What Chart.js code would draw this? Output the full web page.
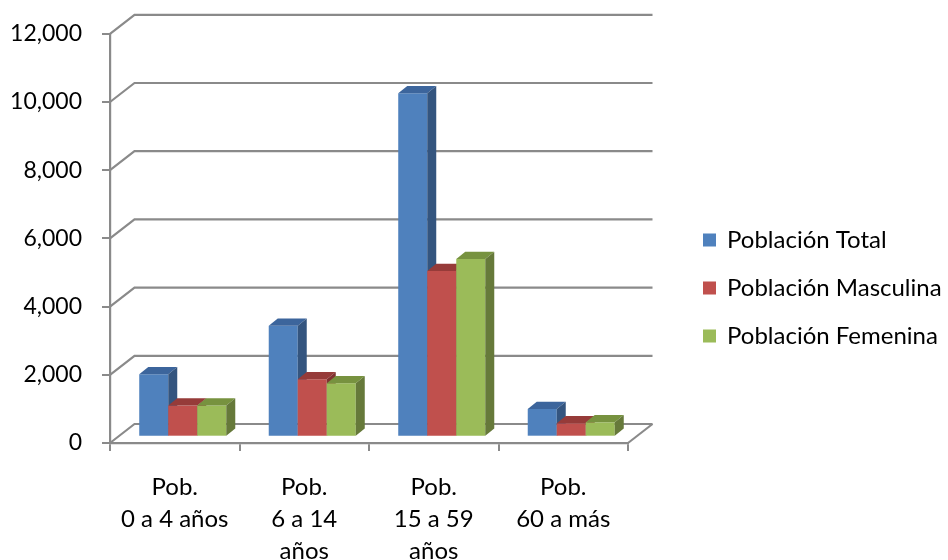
<!DOCTYPE html>
<html>
<head>
<meta charset="utf-8">
<script src="https://cdn.jsdelivr.net/npm/chart.js@4.4.0/dist/chart.umd.min.js"></script>
<style>
  html, body { margin: 0; padding: 0; background: #ffffff; }
  #wrap { position: relative; width: 948px; height: 560px; }
</style>
</head>
<body>
<div id="wrap"><canvas id="chart" width="948" height="560"></canvas></div>
<script>
// Age groups (multi-line category labels)
const categories = [
  ["Pob.", "0 a 4 años"],
  ["Pob.", "6 a 14", "años"],
  ["Pob.", "15 a 59", "años"],
  ["Pob.", "60 a más"]
];
const seriesNames = ["Población Total", "Población Masculina", "Población Femenina"];
const totalValues  = [1830, 3255, 10070, 815];
const maleValues   = [915, 1685, 4860, 393];
const femaleValues = [915, 1570, 5210, 422];
const yMin = 0, yMax = 12000, yStep = 2000;

// Face colours: front / top / side
const palette = [
  { front: "#4f81bd", top: "#3c659c", side: "#34557f" },
  { front: "#c0504d", top: "#963b39", side: "#7f3230" },
  { front: "#9bbb59", top: "#77923f", side: "#66793a" }
];

const FONT = "Lato, 'Liberation Sans', sans-serif";
const GRID = "#8a8a8a";
const WALL = { dx: 24.5, dy: 19 };   // depth of the back wall
const SHIFT = { dx: 8, dy: 6.3 };    // bars sit a little behind the front plane
const DEPTH = { dx: 9, dy: 7.2 };    // bar thickness

const depthPlugin = {
  id: "depth3d",
  beforeDatasetsDraw(chart) {
    const { ctx, chartArea: a, scales: { y } } = chart;
    ctx.save();
    ctx.strokeStyle = GRID;
    ctx.lineWidth = 2.2;
    ctx.lineJoin = "miter";
    y.ticks.forEach(t => {
      const py = y.getPixelForValue(t.value);
      ctx.beginPath();
      ctx.moveTo(a.left, py);
      ctx.lineTo(a.left + WALL.dx, py - WALL.dy);
      ctx.lineTo(a.right + WALL.dx, py - WALL.dy);
      ctx.stroke();
    });
    // right edge of the floor
    ctx.beginPath();
    ctx.moveTo(a.right, a.bottom);
    ctx.lineTo(a.right + WALL.dx, a.bottom - WALL.dy);
    ctx.stroke();
    ctx.restore();
  },
  beforeDatasetDraw() {
    // bars are painted below, in series order, together with their depth faces
    return false;
  },
  afterDatasetsDraw(chart) {
    const ctx = chart.ctx;
    ctx.save();
    ctx.translate(SHIFT.dx, -SHIFT.dy);
    chart.data.datasets.forEach((ds, i) => {
      const meta = chart.getDatasetMeta(i);
      const col = palette[i];
      meta.data.forEach(el => {
        const { x, y, base, width } = el.getProps(["x", "y", "base", "width"], true);
        const x0 = x - width / 2, x1 = x + width / 2;
        el.draw(ctx);
        // top face
        ctx.fillStyle = col.top;
        ctx.beginPath();
        ctx.moveTo(x0, y);
        ctx.lineTo(x0 + DEPTH.dx, y - DEPTH.dy);
        ctx.lineTo(x1 + DEPTH.dx, y - DEPTH.dy);
        ctx.lineTo(x1, y);
        ctx.closePath();
        ctx.fill();
        // side face
        ctx.fillStyle = col.side;
        ctx.beginPath();
        ctx.moveTo(x1, y);
        ctx.lineTo(x1 + DEPTH.dx, y - DEPTH.dy);
        ctx.lineTo(x1 + DEPTH.dx, base - DEPTH.dy);
        ctx.lineTo(x1, base);
        ctx.closePath();
        ctx.fill();
      });
    });
    ctx.restore();
  },
  afterDraw(chart) {
    // legend on the right
    const ctx = chart.ctx;
    const rows = [240, 288, 336];
    ctx.save();
    ctx.font = "24px " + FONT;
    ctx.textBaseline = "middle";
    ctx.textAlign = "left";
    chart.data.datasets.forEach((ds, i) => {
      const cy = rows[i];
      ctx.fillStyle = ds.backgroundColor;
      ctx.fillRect(703, cy - 6.5, 13, 13);
      ctx.fillStyle = "#000000";
      ctx.fillText(ds.label, 727, cy);
    });
    ctx.restore();
  }
};

const seriesValues = [totalValues, maleValues, femaleValues];

new Chart(document.getElementById("chart"), {
  type: "bar",
  data: {
    labels: categories,
    datasets: seriesNames.map((name, i) => ({
      label: name,
      data: seriesValues[i],
      backgroundColor: palette[i].front,
      borderWidth: 0,
      clip: false
    }))
  },
  options: {
    responsive: false,
    animation: false,
    events: [],
    layout: { padding: { top: 33, right: 320, left: 0, bottom: 0 } },
    datasets: { bar: { categoryPercentage: 0.672, barPercentage: 1 } },
    plugins: { legend: { display: false }, tooltip: { enabled: false } },
    scales: {
      x: {
        grid: { display: true, drawOnChartArea: false, drawTicks: true, tickLength: 8, color: GRID, lineWidth: 2 },
        border: { display: true, color: GRID, width: 2.2 },
        ticks: { color: "#000000", padding: 20, maxRotation: 0, autoSkip: false,
                 font: { family: FONT, size: 24, lineHeight: "32px" } },
        afterFit(s) { s.height = 117; }
      },
      y: {
        min: yMin, max: yMax,
        grid: { display: true, drawOnChartArea: false, drawTicks: true, tickLength: 8, color: GRID, lineWidth: 2 },
        border: { display: true, color: GRID, width: 2.2 },
        ticks: { stepSize: yStep, color: "#000000", padding: 20,
                 font: { family: FONT, size: 23 } },
        afterFit(s) { s.width = 110; }
      }
    }
  },
  plugins: [depthPlugin]
});
</script>
</body>
</html>
